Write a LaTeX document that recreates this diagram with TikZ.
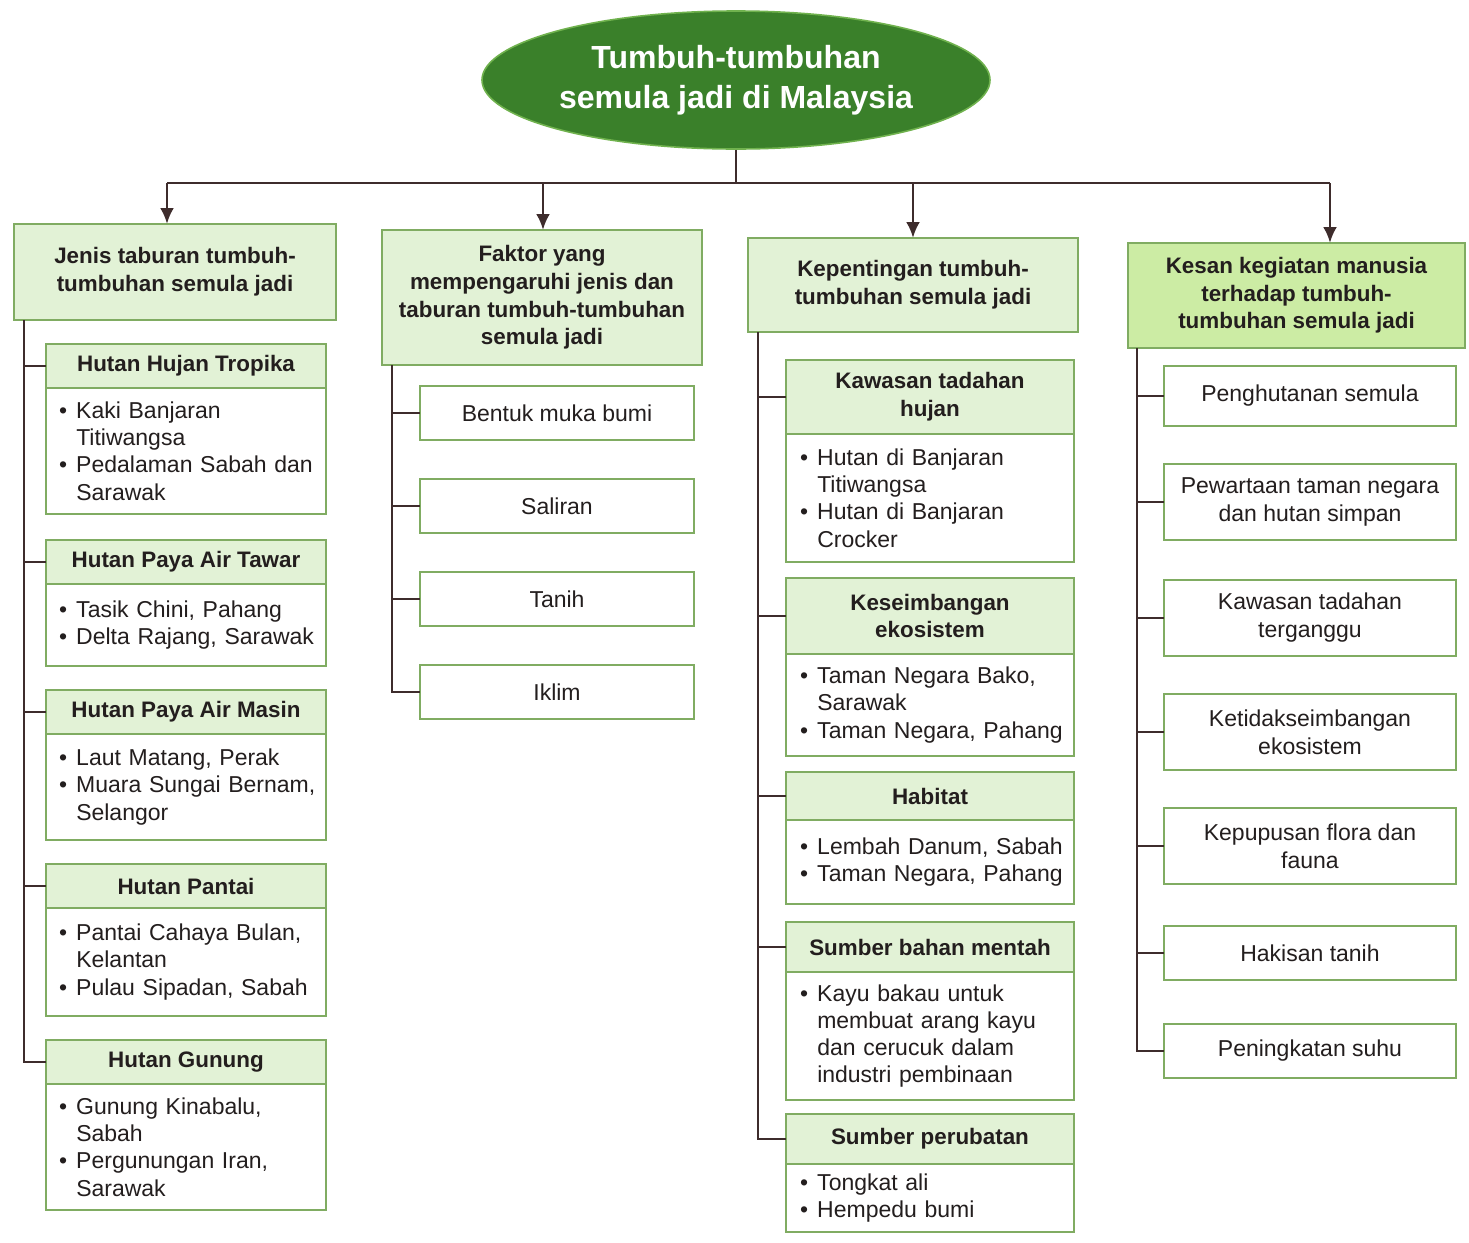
\documentclass[tikz,border=0pt]{standalone}
\usepackage{fontspec}
\setmainfont{Liberation Sans}
\usepackage{tikz}
\usetikzlibrary{shapes.geometric, arrows.meta, positioning, calc}
\definecolor{mygreen}{RGB}{58,128,42}
\definecolor{myrim}{RGB}{112,178,78}
\definecolor{myframe}{RGB}{128,172,98}
\definecolor{hdrgreen}{RGB}{226,242,214}
\definecolor{hdrlime}{RGB}{204,236,164}
\definecolor{mydark}{RGB}{35,30,30}
\definecolor{mybrown}{RGB}{62,44,44}
\newcommand{\itm}[1]{\mbox{\makebox[0.75em][l]{\textbullet}#1}}
\newcommand{\cnt}[1]{\mbox{\hspace*{0.75em}#1}}
\tikzset{
  titlenode/.style={ellipse, draw=myrim, fill=mygreen, line width=0.8pt,
    text=white, font=\bfseries\fontsize{16}{20}\selectfont, align=center,
    minimum width=254pt, minimum height=69pt, inner sep=0pt},
  mainhead/.style={rectangle, draw=myframe, fill=hdrgreen, line width=0.7pt,
    text=mydark, font=\bfseries\fontsize{11.2}{13.8}\selectfont, align=center,
    anchor=north west, inner sep=0pt, outer sep=0pt},
  subhead/.style={mainhead},
  subbody/.style={rectangle, draw=myframe, fill=white, line width=0.7pt,
    text=mydark, font=\fontsize{11.5}{13.6}\selectfont, align=left,
    inner xsep=6.5pt, inner ysep=0pt, outer sep=0pt},
  itembox/.style={rectangle, draw=myframe, fill=white, line width=0.7pt,
    text=mydark, font=\fontsize{11.5}{14}\selectfont, align=center,
    anchor=north west, inner sep=0pt, outer sep=0pt},
  arrow/.style={-{Latex[length=8pt,width=7pt]}, line width=1.4pt, color=mybrown},
  line/.style={line width=1.4pt, color=mybrown}
}

\begin{document}
\begin{tikzpicture}[x=0.5pt, y=-0.5pt]
  \useasboundingbox (0,0) rectangle (1469,1243);

  % Title and the four main branches
  \node[titlenode] (title) at (736,80) {Tumbuh-tumbuhan\\semula jadi di Malaysia};
  \node[mainhead, minimum width=161pt, minimum height=48pt] (jenis) at (14,224)
    {Jenis taburan tumbuh-\\tumbuhan semula jadi};
  \node[mainhead, minimum width=160pt, minimum height=67.5pt] (faktor) at (382,230)
    {Faktor yang\\mempengaruhi jenis dan\\taburan tumbuh-tumbuhan\\semula jadi};
  \node[mainhead, minimum width=165pt, minimum height=47pt] (penting) at (748,238)
    {Kepentingan tumbuh-\\tumbuhan semula jadi};
  \node[mainhead, fill=hdrlime, minimum width=168.5pt, minimum height=52.5pt] (kesan) at (1128,243)
    {Kesan kegiatan manusia\\terhadap tumbuh-\\tumbuhan semula jadi};

  \coordinate (a1) at (167,183);
  \coordinate (a2) at (543,183);
  \coordinate (a3) at (913,183);
  \coordinate (a4) at (1330,183);
  \draw[line] (title.south) -- (title.south |- a1);
  \draw[line] (a1) -- (a4);
  \draw[arrow] (a1) -- (a1 |- jenis.north);
  \draw[arrow] (a2) -- (a2 |- faktor.north);
  \draw[arrow] (a3) -- (a3 |- penting.north);
  \draw[arrow] (a4) -- (a4 |- kesan.north);

  % Jenis taburan
  \node[subhead, minimum width=140pt, minimum height=22pt] (hht) at (46,344) {Hutan Hujan Tropika};
  \node[subbody, text width=127pt, minimum height=63pt, below=0pt of hht] (hht-b)
    {\itm{Kaki Banjaran}\\ \cnt{Titiwangsa}\\ \itm{Pedalaman Sabah dan}\\ \cnt{Sarawak}};
  \node[subhead, minimum width=140pt, minimum height=22pt] (hpat) at (46,540) {Hutan Paya Air Tawar};
  \node[subbody, text width=127pt, minimum height=41pt, below=0pt of hpat] (hpat-b)
    {\itm{Tasik Chini, Pahang}\\ \itm{Delta Rajang, Sarawak}};
  \node[subhead, minimum width=140pt, minimum height=22pt] (hpam) at (46,690) {Hutan Paya Air Masin};
  \node[subbody, text width=127pt, minimum height=53pt, below=0pt of hpam] (hpam-b)
    {\itm{Laut Matang, Perak}\\ \itm{Muara Sungai Bernam,}\\ \cnt{Selangor}};
  \node[subhead, minimum width=140pt, minimum height=22pt] (hpn) at (46,864) {Hutan Pantai};
  \node[subbody, text width=127pt, minimum height=54pt, below=0pt of hpn] (hpn-b)
    {\itm{Pantai Cahaya Bulan,}\\ \cnt{Kelantan}\\ \itm{Pulau Sipadan, Sabah}};
  \node[subhead, minimum width=140pt, minimum height=22pt] (hg) at (46,1040) {Hutan Gunung};
  \node[subbody, text width=127pt, minimum height=63pt, below=0pt of hg] (hg-b)
    {\itm{Gunung Kinabalu,}\\ \cnt{Sabah}\\ \itm{Pergunungan Iran,}\\ \cnt{Sarawak}};

  \coordinate (t1) at ($(jenis.south west)+(10,0)$);
  \draw[line] (t1) |- (hg.west);
  \draw[line] (t1 |- hht.west) -- (hht.west);
  \draw[line] (t1 |- hpat.west) -- (hpat.west);
  \draw[line] (t1 |- hpam.west) -- (hpam.west);
  \draw[line] (t1 |- hpn.west) -- (hpn.west);

  % Faktor
  \node[itembox, minimum width=137pt, minimum height=27pt] (bentuk) at (420,386) {Bentuk muka bumi};
  \node[itembox, minimum width=137pt, minimum height=27pt] (saliran) at (420,479) {Saliran};
  \node[itembox, minimum width=137pt, minimum height=27pt] (tanih) at (420,572) {Tanih};
  \node[itembox, minimum width=137pt, minimum height=27pt] (iklim) at (420,665) {Iklim};

  \coordinate (t2) at ($(faktor.south west)+(10,0)$);
  \draw[line] (t2) |- (iklim.west);
  \draw[line] (t2 |- bentuk.west) -- (bentuk.west);
  \draw[line] (t2 |- saliran.west) -- (saliran.west);
  \draw[line] (t2 |- tanih.west) -- (tanih.west);

  % Kepentingan
  \node[subhead, minimum width=144pt, minimum height=37pt] (kth) at (786,360) {Kawasan tadahan\\hujan};
  \node[subbody, inner xsep=7pt, text width=130pt, minimum height=64pt, below=0pt of kth] (kth-b)
    {\itm{Hutan di Banjaran}\\ \cnt{Titiwangsa}\\ \itm{Hutan di Banjaran}\\ \cnt{Crocker}};
  \node[subhead, minimum width=144pt, minimum height=38pt] (kse) at (786,578) {Keseimbangan\\ekosistem};
  \node[subbody, inner xsep=7pt, text width=130pt, minimum height=51pt, below=0pt of kse] (kse-b)
    {\itm{Taman Negara Bako,}\\ \cnt{Sarawak}\\ \itm{Taman Negara, Pahang}};
  \node[subhead, minimum width=144pt, minimum height=24pt] (hab) at (786,772) {Habitat};
  \node[subbody, inner xsep=7pt, text width=130pt, minimum height=42pt, below=0pt of hab] (hab-b)
    {\itm{Lembah Danum, Sabah}\\ \itm{Taman Negara, Pahang}};
  \node[subhead, minimum width=144pt, minimum height=25pt] (sbm) at (786,922) {Sumber bahan mentah};
  \node[subbody, inner xsep=7pt, text width=130pt, minimum height=64pt, below=0pt of sbm] (sbm-b)
    {\itm{Kayu bakau untuk}\\ \cnt{membuat arang kayu}\\ \cnt{dan cerucuk dalam}\\ \cnt{industri pembinaan}};
  \node[subhead, minimum width=144pt, minimum height=25pt] (sp) at (786,1114) {Sumber perubatan};
  \node[subbody, inner xsep=7pt, text width=130pt, minimum height=34pt, below=0pt of sp] (sp-b)
    {\itm{Tongkat ali}\\ \itm{Hempedu bumi}};

  \coordinate (t3) at ($(penting.south west)+(10,0)$);
  \draw[line] (t3) |- (sp.west);
  \draw[line] (t3 |- kth.west) -- (kth.west);
  \draw[line] (t3 |- kse.west) -- (kse.west);
  \draw[line] (t3 |- hab.west) -- (hab.west);
  \draw[line] (t3 |- sbm.west) -- (sbm.west);

  % Kesan kegiatan manusia
  \node[itembox, minimum width=146pt, minimum height=30pt] (hutan) at (1164,366) {Penghutanan semula};
  \node[itembox, minimum width=146pt, minimum height=38pt] (warta) at (1164,464) {Pewartaan taman negara\\dan hutan simpan};
  \node[itembox, minimum width=146pt, minimum height=38pt] (tadah) at (1164,580) {Kawasan tadahan\\terganggu};
  \node[itembox, minimum width=146pt, minimum height=38pt] (imbang) at (1164,694) {Ketidakseimbangan\\ekosistem};
  \node[itembox, minimum width=146pt, minimum height=38pt] (pupus) at (1164,808) {Kepupusan flora dan\\fauna};
  \node[itembox, minimum width=146pt, minimum height=27pt] (hakis) at (1164,926) {Hakisan tanih};
  \node[itembox, minimum width=146pt, minimum height=27pt] (suhu) at (1164,1024) {Peningkatan suhu};

  \coordinate (t4) at ($(kesan.south west)+(9,0)$);
  \draw[line] (t4) |- (suhu.west);
  \draw[line] (t4 |- hutan.west) -- (hutan.west);
  \draw[line] (t4 |- warta.west) -- (warta.west);
  \draw[line] (t4 |- tadah.west) -- (tadah.west);
  \draw[line] (t4 |- imbang.west) -- (imbang.west);
  \draw[line] (t4 |- pupus.west) -- (pupus.west);
  \draw[line] (t4 |- hakis.west) -- (hakis.west);
\end{tikzpicture}
\end{document}
